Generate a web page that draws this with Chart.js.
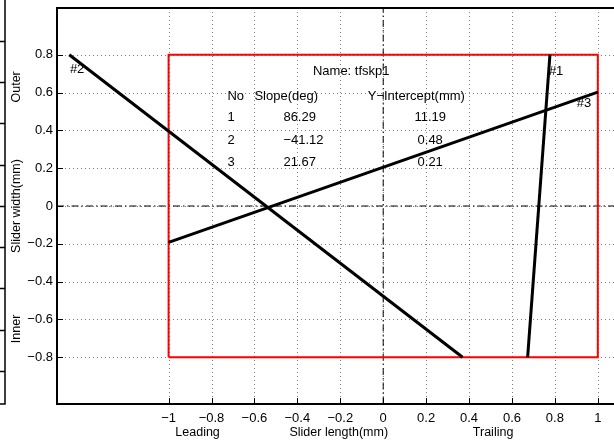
<!DOCTYPE html>
<html>
<head>
<meta charset="utf-8">
<script src="https://cdn.jsdelivr.net/npm/chart.js@4.4.1/dist/chart.umd.min.js"></script>
<style>
  html, body { margin: 0; padding: 0; overflow: hidden; background: #fff; }
</style>
</head>
<body>
<canvas id="chartLines" width="725" height="440"></canvas>
<script>
// ---------- datos ----------
const line1X = [0.777, 0.673];
const line1Y = [0.8, -0.8];
const line2X = [-1.463, 0.37];
const line2Y = [0.8, -0.8];
const line3X = [-1, 1];
const line3Y = [-0.192, 0.602];
const boxX = [-1, 1, 1, -1, -1];
const boxY = [-0.8, -0.8, 0.8, 0.8, -0.8];

const xTicks = [-1, -0.8, -0.6, -0.4, -0.2, 0, 0.2, 0.4, 0.6, 0.8, 1];
const xTickLabels = ['\u22121', '\u22120.8', '\u22120.6', '\u22120.4', '\u22120.2', '0', '0.2', '0.4', '0.6', '0.8', '1'];
const yTicks = [-0.8, -0.6, -0.4, -0.2, 0, 0.2, 0.4, 0.6, 0.8];
const yTickLabels = ['\u22120.8', '\u22120.6', '\u22120.4', '\u22120.2', '0', '0.2', '0.4', '0.6', '0.8'];
const ghostTicks = [-4, -3, -2, -1, 0, 1, 2, 3, 4];

const tableRows = ['1', '2', '3'];
const tableSlopes = ['86.29', '\u221241.12', '21.67'];
const tableIntercepts = ['11.19', '0.48', '0.21'];

const FONT = "'Liberation Sans', Arial, Helvetica, sans-serif";
const X_MIN = -1.52, X_MAX = 1.52, Y_MIN = -1.047, Y_MAX = 1.047;

function pts(xs, ys) { return xs.map((v, i) => ({ x: v, y: ys[i] })); }

// ---------- plugin: ejes estilo MATLAB ----------
const plotFrame = {
    id: 'plotFrame',
    beforeDatasetsDraw(chart) {
        const { ctx, chartArea: a, scales: { x, y, g } } = chart;
        ctx.save();

        // eje fantasma a la izquierda
        ctx.strokeStyle = '#000';
        ctx.lineWidth = 1.5;
        ctx.beginPath();
        ctx.moveTo(5, 0); ctx.lineTo(5, a.bottom);
        ctx.lineTo(0, a.bottom);
        ghostTicks.forEach(v => {
            const py = Math.round(g.getPixelForValue(v)) + 0.5;
            ctx.moveTo(0, py); ctx.lineTo(5, py);
        });
        ctx.stroke();

        // rejilla punteada
        ctx.strokeStyle = 'rgba(0,0,0,0.5)';
        ctx.lineWidth = 1;
        ctx.setLineDash([1, 3]);
        ctx.beginPath();
        xTicks.forEach(v => {
            const px = Math.round(x.getPixelForValue(v)) + 0.5;
            ctx.moveTo(px, a.top); ctx.lineTo(px, a.bottom);
        });
        yTicks.forEach(v => {
            const py = Math.round(y.getPixelForValue(v)) + 0.5;
            ctx.moveTo(a.left, py); ctx.lineTo(a.right, py);
        });
        ctx.stroke();
        ctx.restore();
    },
    afterDatasetsDraw(chart) {
        const { ctx, chartArea: a, scales: { x, y } } = chart;
        ctx.save();

        // marco
        ctx.strokeStyle = '#000';
        ctx.lineWidth = 2;
        ctx.setLineDash([]);
        ctx.beginPath();
        ctx.moveTo(a.right, a.top); ctx.lineTo(a.left, a.top);
        ctx.lineTo(a.left, a.bottom); ctx.lineTo(a.right, a.bottom);
        ctx.stroke();

        // marcas hacia dentro
        ctx.lineWidth = 1;
        ctx.beginPath();
        xTicks.forEach(v => {
            const px = Math.round(x.getPixelForValue(v)) + 0.5;
            ctx.moveTo(px, a.bottom); ctx.lineTo(px, a.bottom - 6);
        });
        yTicks.forEach(v => {
            const py = Math.round(y.getPixelForValue(v)) + 0.5;
            ctx.moveTo(a.left, py); ctx.lineTo(a.left + 6, py);
        });
        ctx.stroke();

        // etiquetas de ticks
        ctx.fillStyle = '#000';
        ctx.font = '13px ' + FONT;
        ctx.textAlign = 'center';
        ctx.textBaseline = 'middle';
        xTicks.forEach((v, i) => ctx.fillText(xTickLabels[i], x.getPixelForValue(v), a.bottom + 14));
        ctx.textAlign = 'right';
        yTicks.forEach((v, i) => ctx.fillText(yTickLabels[i], a.left - 4, y.getPixelForValue(v)));

        // títulos de ejes
        ctx.font = '12.5px ' + FONT;
        ctx.textAlign = 'center';
        const titleY = a.bottom + 29;
        ctx.fillText('Leading', x.getPixelForValue(-0.865), titleY);
        ctx.fillText('Slider length(mm)', x.getPixelForValue(-0.207), titleY);
        ctx.fillText('Trailing', x.getPixelForValue(0.512), titleY);

        const sideLabels = [['Slider width(mm)', 0], ['Outer', 0.63], ['Inner', -0.65]];
        sideLabels.forEach(([txt, v]) => {
            ctx.save();
            ctx.translate(17, y.getPixelForValue(v));
            ctx.rotate(-Math.PI / 2);
            ctx.fillText(txt, 0, 0);
            ctx.restore();
        });

        // anotaciones y tabla
        ctx.font = '13px ' + FONT;
        ctx.textAlign = 'left';
        ctx.fillText('#2', x.getPixelForValue(-1.46), y.getPixelForValue(0.72));
        ctx.fillText('#1', x.getPixelForValue(0.772), y.getPixelForValue(0.714));
        ctx.fillText('#3', x.getPixelForValue(0.902), y.getPixelForValue(0.54));

        ctx.textAlign = 'center';
        ctx.fillText('Name: tfskp1', x.getPixelForValue(-0.149), y.getPixelForValue(0.714));
        ctx.textAlign = 'left';
        ctx.fillText('No', x.getPixelForValue(-0.726), y.getPixelForValue(0.582));
        ctx.fillText('Slope(deg)', x.getPixelForValue(-0.6), y.getPixelForValue(0.582));
        ctx.fillText('Y\u2212Intercept(mm)', x.getPixelForValue(-0.072), y.getPixelForValue(0.582));

        const rowY = [0.466, 0.349, 0.233];
        tableRows.forEach((r, i) => {
            const py = y.getPixelForValue(rowY[i]);
            ctx.textAlign = 'left';
            ctx.fillText(r, x.getPixelForValue(-0.726), py);
            ctx.fillText(tableSlopes[i], x.getPixelForValue(-0.465), py);
            ctx.textAlign = 'center';
            ctx.fillText(tableIntercepts[i], x.getPixelForValue(0.219), py);
        });

        ctx.restore();
    }
};

// ---------- gráfico ----------
const dashDot = [7, 3, 1.5, 3];

new Chart(document.getElementById('chartLines').getContext('2d'), {
    type: 'line',
    data: {
        datasets: [
            { data: pts([X_MIN, X_MAX], [0, 0]), borderColor: '#000', borderWidth: 1, borderDash: dashDot, order: 5 },
            { data: pts([0, 0], [Y_MIN, Y_MAX]), borderColor: '#000', borderWidth: 1, borderDash: dashDot, order: 5 },
            { data: pts(boxX, boxY), borderColor: '#ff0000', borderWidth: 2, order: 4 },
            { data: pts(line1X, line1Y), borderColor: '#000', borderWidth: 3, order: 1 },
            { data: pts(line2X, line2Y), borderColor: '#000', borderWidth: 3, order: 1 },
            { data: pts(line3X, line3Y), borderColor: '#000', borderWidth: 3, order: 1 }
        ]
    },
    options: {
        responsive: false,
        animation: false,
        layout: { padding: { left: 57, top: 8, right: 15.6, bottom: 36 } },
        elements: {
            point: { radius: 0, hoverRadius: 0 },
            line: { tension: 0, fill: false, borderCapStyle: 'butt' }
        },
        plugins: { legend: { display: false }, tooltip: { enabled: false } },
        scales: {
            x: { type: 'linear', min: X_MIN, max: X_MAX, display: false },
            y: { type: 'linear', min: Y_MIN, max: Y_MAX, display: false },
            g: { type: 'linear', axis: 'y', min: -4.8, max: 4.8, display: false }
        }
    },
    plugins: [plotFrame]
});
</script>
</body>
</html>
